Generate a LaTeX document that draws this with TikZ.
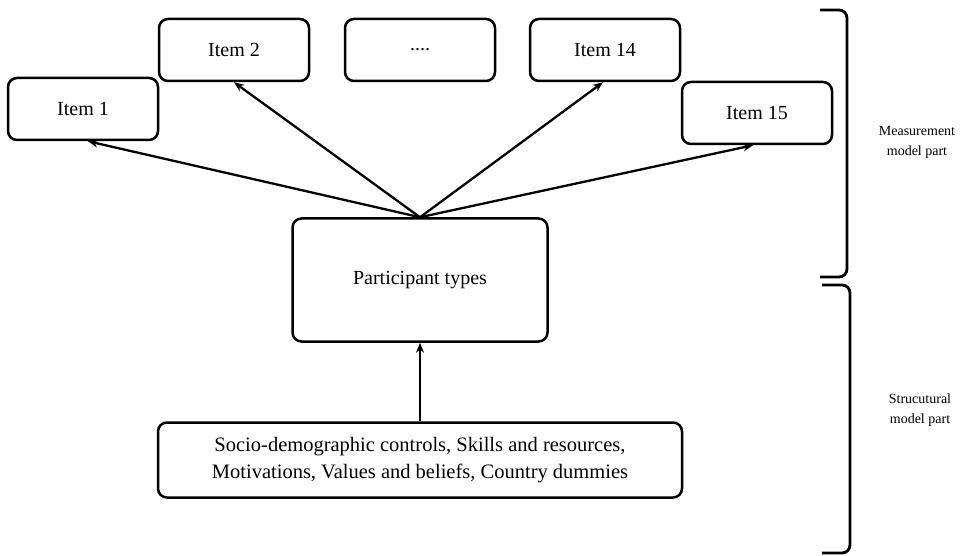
\documentclass[tikz,border=0pt]{standalone}
\usepackage{fontspec}
\setmainfont{Liberation Serif}
\usetikzlibrary{arrows.meta, positioning}

\begin{document}
\begin{tikzpicture}[
        x=1pt, y=-1pt,
        box/.style={rectangle, draw, line width=2.5pt, rounded corners=9pt, align=center, font=\fontsize{20}{27}\selectfont},
        itembox/.style={box, minimum width=150pt, minimum height=62pt},
        arrow/.style={-{Stealth[length=10pt, width=8pt]}, line width=2.3pt},
        brace/.style={line width=2.8pt, rounded corners=8pt},
        side/.style={align=center, font=\fontsize{14}{20}\selectfont}
    ]
        \useasboundingbox (0,0) rectangle (969,556);

        % Row 1: Items (top)
        \node[itembox] (item1) at (83,109) {Item 1};
        \node[itembox] (item2) at (234,50) {Item 2};
        \node[itembox] (dots) at (420,50) {....};
        \node[itembox] (item14) at (605,50) {Item 14};
        \node[itembox] (item15) at (757,113) {Item 15};

        % Row 2: Latent classes (middle)
        \node[box, minimum width=255pt, minimum height=123pt] (types) at (420,280) {Participant types};

        % Row 3: Covariates (bottom)
        \node[box, minimum width=524pt, minimum height=75pt, font=\fontsize{20.5}{27}\selectfont] (covar) at (420,460) {Socio-demographic controls, Skills and resources,\\Motivations, Values and beliefs, Country dummies};

        % Arrows - measurement part
        \coordinate (fan) at (types.north);
        \draw[arrow] (fan) -- ([xshift=5pt]item1.south);
        \draw[arrow] (fan) -- (item2.south);
        \draw[arrow] (fan) -- ([xshift=-2pt]item14.south);
        \draw[arrow] (fan) -- ([xshift=-4pt]item15.south);

        % Arrow - structural part
        \draw[arrow] (covar) -- (types);

        % Brackets on the right
        \draw[brace] (820,10) -- (847,10) -- (847,277) -- (820,277);
        \draw[brace] (822,285) -- (850,285) -- (850,553) -- (822,553);

        \node[side] (meas) at (917,142) {Measurement\\model part};
        \node[side] (struc) at (920,410) {Strucutural\\model part};
    \end{tikzpicture}
\end{document}
